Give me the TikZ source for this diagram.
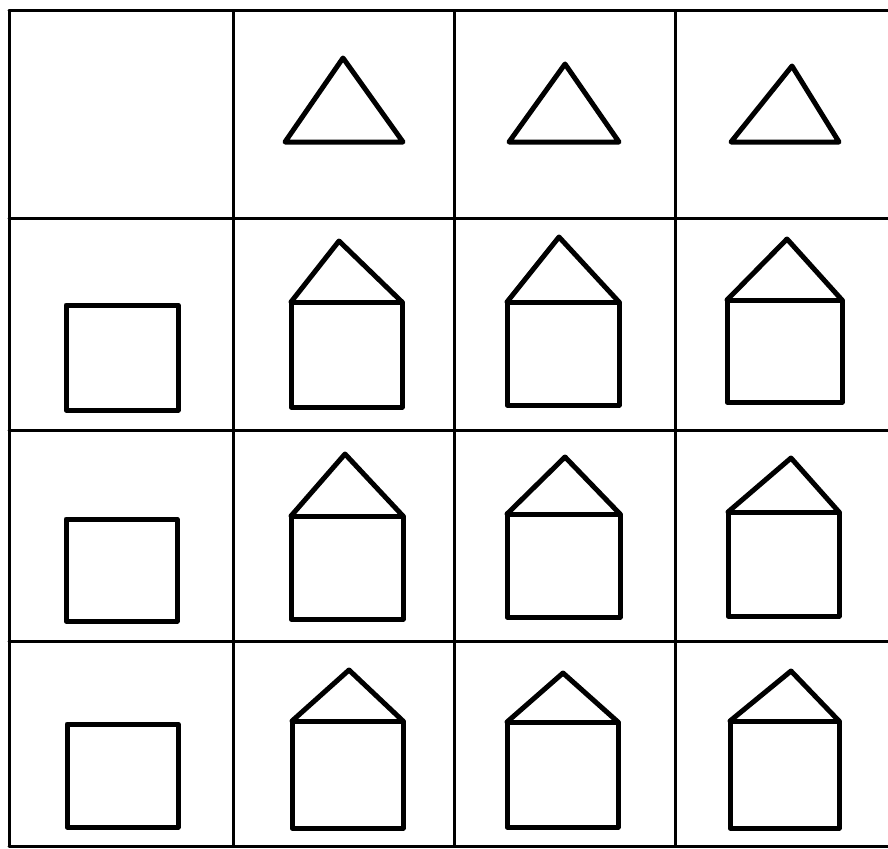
\documentclass[tikz,border=0pt]{standalone}
\begin{document}
\begin{tikzpicture}[x=1pt,y=-1pt,
  gridline/.style={line width=3pt,line cap=round},
  figline/.style={line width=5pt,line join=round,line cap=round}]
\useasboundingbox (0,0) rectangle (888,848);
% grid
\draw[gridline] (9,11) -- (888,11);
\draw[gridline] (9,218) -- (888,218);
\draw[gridline] (9,430) -- (888,430);
\draw[gridline] (9,641) -- (888,641);
\draw[gridline] (9,846) -- (888,846);
\draw[gridline] (9,11) -- (9,846);
\draw[gridline] (233,11) -- (233,846);
\draw[gridline] (454,11) -- (454,846);
\draw[gridline] (675,11) -- (675,846);
% triangles (top row)
\draw[figline] (285,142) -- (343,58) -- (403,142) -- cycle;
\draw[figline] (509,142) -- (565,64) -- (619,142) -- cycle;
\draw[figline] (731,142) -- (792,66) -- (839,142) -- cycle;
% squares (left column)
\draw[figline] (66,305) rectangle (178,410);
\draw[figline] (66,519) rectangle (177,621);
\draw[figline] (67,724) rectangle (178,827);
% houses: #1 L, #2 R, #3 T, #4 B, #5 apex x, #6 apex y
\newcommand{\myhouse}[6]{%
  \draw[figline] (#1,#3) rectangle (#2,#4);
  \draw[figline] (#1,#3) -- (#5,#6) -- (#2,#3);}
\myhouse{291}{402}{302}{407}{339}{241}
\myhouse{507}{619}{302}{405}{559}{237}
\myhouse{727}{842}{300}{402}{787}{239}
\myhouse{291}{403}{516}{619}{345}{454}
\myhouse{507}{620}{514}{617}{565}{457}
\myhouse{728}{839}{512}{616}{791}{458}
\myhouse{292}{403}{721}{828}{349}{670}
\myhouse{507}{618}{722}{827}{563}{673}
\myhouse{730}{839}{721}{828}{791}{671}
\end{tikzpicture}
\end{document}
